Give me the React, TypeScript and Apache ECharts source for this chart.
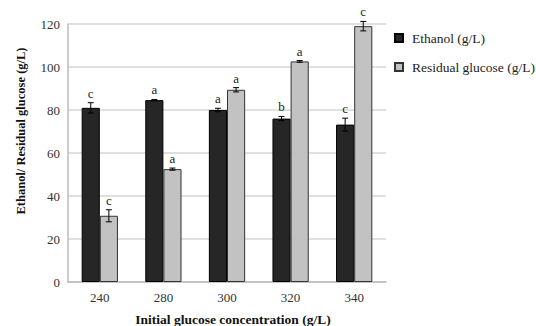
import React, { useEffect, useRef } from "react";
import * as echarts from "echarts";

const categories = ["240", "280", "300", "320", "340"];
const ethanol = [81, 84.6, 80, 76, 73.2];
const ethanolErr = [2.4, 0.3, 0.8, 1.0, 3.0];
const ethanolLetters = ["c", "a", "a", "b", "c"];
const glucose = [30.8, 52.5, 89.4, 102.6, 119];
const glucoseErr = [2.8, 0.5, 1.0, 0.4, 2.2];
const glucoseLetters = ["c", "a", "a", "a", "c"];

const FONT = "Liberation Serif, Times New Roman, serif";
const GAP = 0.43;

function errSeries(name: string, vals: number[], errs: number[], letters: string[], side: number) {
  return {
    type: "custom",
    name: name + " err",
    z: 10,
    silent: true,
    data: vals.map((v, i) => [i, v, errs[i]]),
    encode: { x: 0, y: 1 },
    renderItem: (params: any, api: any) => {
      const i = api.value(0);
      const v = api.value(1);
      const e = api.value(2);
      const letter = letters[i];
      const band = api.size([1, 0])[0];
      const bw = (band * (1 - GAP)) / 2;
      const c = api.coord([i, v]);
      const x = c[0] + (side * bw) / 2;
      const top = api.coord([i, v + e])[1];
      const bot = api.coord([i, v - e])[1];
      const cap = 3;
      const st = { stroke: "#000", lineWidth: 1 };
      return {
        type: "group",
        children: [
          { type: "line", shape: { x1: x, y1: top, x2: x, y2: bot }, style: st },
          { type: "line", shape: { x1: x - cap, y1: top, x2: x + cap, y2: top }, style: st },
          { type: "line", shape: { x1: x - cap, y1: bot, x2: x + cap, y2: bot }, style: st },
          {
            type: "text",
            style: {
              text: letter,
              x: x,
              y: top - 3,
              textAlign: "center",
              textVerticalAlign: "bottom",
              fontFamily: FONT,
              fontSize: 13,
              fill: "#222",
            },
          },
        ],
      };
    },
  };
}

export default function App() {
  const ref = useRef<HTMLDivElement>(null);
  useEffect(() => {
    if (!ref.current) return;
    const chart = echarts.init(ref.current, undefined, { renderer: "svg" });
    chart.setOption({
      animation: false,
      backgroundColor: "#fff",
      grid: { left: 68, right: 150, top: 24, bottom: 44 },
      legend: {
        orient: "vertical",
        left: 389,
        top: 26,
        itemWidth: 8,
        itemHeight: 8,
        itemGap: 15,
        icon: "rect",
        textStyle: { fontFamily: FONT, fontSize: 13.5, color: "#222", padding: [0, 0, 0, 4] },
        data: ["Ethanol (g/L)", "Residual glucose (g/L)"],
      },
      graphic: [
        {
          type: "text",
          x: 21,
          y: 131,
          rotation: Math.PI / 2,
          style: {
            text: "Ethanol/ Residual glucose (g/L)",
            textAlign: "center",
            textVerticalAlign: "middle",
            fontFamily: FONT,
            fontSize: 12.5,
            fontWeight: "bold",
            fill: "#111",
          },
        },
        {
          type: "text",
          x: 233,
          y: 319,
          style: {
            text: "Initial glucose concentration (g/L)",
            textAlign: "center",
            textVerticalAlign: "middle",
            fontFamily: FONT,
            fontSize: 13.5,
            fontWeight: "bold",
            fill: "#111",
          },
        },
      ],
      xAxis: {
        type: "category",
        data: categories,
        axisLine: { lineStyle: { color: "#bbb", width: 1.5 } },
        axisTick: { show: false },
        axisLabel: { fontFamily: FONT, fontSize: 13, color: "#333", margin: 9 },
      },
      yAxis: {
        type: "value",
        min: 0,
        max: 120,
        interval: 20,
        axisLine: { show: true, lineStyle: { color: "#bbb", width: 1.5 } },
        axisTick: { show: false },
        axisLabel: { fontFamily: FONT, fontSize: 13, color: "#333", margin: 8 },
        splitLine: { lineStyle: { color: "#d6d6d6", width: 1.5 } },
      },
      series: [
        {
          type: "bar",
          name: "Ethanol (g/L)",
          data: ethanol,
          barGap: "0%",
          barCategoryGap: GAP * 100 + "%",
          itemStyle: { color: "#262626", borderColor: "#000", borderWidth: 1 },
        },
        {
          type: "bar",
          name: "Residual glucose (g/L)",
          data: glucose,
          barGap: "0%",
          barCategoryGap: GAP * 100 + "%",
          itemStyle: { color: "#c2c2c2", borderColor: "#333", borderWidth: 1 },
        },
        errSeries("Ethanol", ethanol, ethanolErr, ethanolLetters, -1),
        errSeries("Glucose", glucose, glucoseErr, glucoseLetters, 1),
      ],
    });
    return () => chart.dispose();
  }, []);
  return <div ref={ref} style={{ width: 536, height: 326, position: "absolute", left: 0, top: 0 }} />;
}
